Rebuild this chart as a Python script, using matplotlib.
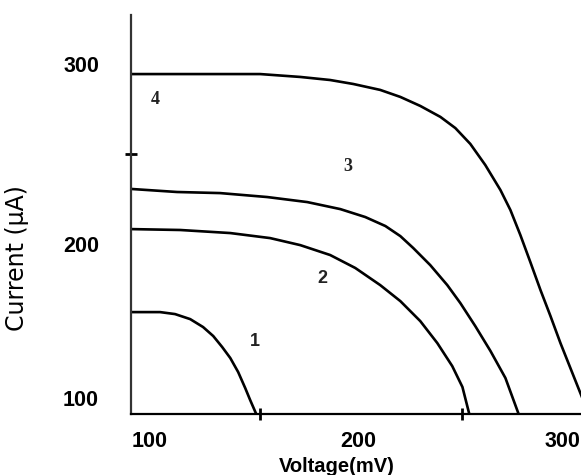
import matplotlib
matplotlib.use('Agg')
import matplotlib.pyplot as plt
from matplotlib import font_manager

# I-V curves (voltage in mV, current in uA)
v1 = [90.8, 104.8, 112.0, 119.3, 125.5, 130.4, 134.7, 138.6, 142.4, 145.8, 148.2, 151.1]
i1 = [162.2, 162.2, 161.1, 158.3, 153.9, 148.9, 142.8, 136.7, 128.9, 120.0, 113.3, 105.6]

v2 = [90.8, 114.5, 138.6, 157.8, 172.3, 186.7, 198.8, 210.8, 220.5, 230.1, 238.3, 245.5, 250.4, 253.7]
i2 = [208.3, 207.8, 206.1, 203.3, 199.4, 193.9, 186.7, 177.2, 168.3, 157.2, 145.0, 132.2, 120.6, 105.6]

v3 = [90.8, 113.0, 133.7, 156.4, 175.7, 191.6, 203.6, 213.3, 220.5, 226.7, 234.9, 243.1, 249.4,
      256.6, 263.9, 271.1, 277.3]
i3 = [230.6, 228.9, 228.3, 226.1, 223.3, 219.4, 215.0, 210.0, 204.4, 197.8, 188.3, 177.2, 167.2,
      154.4, 140.6, 125.6, 106.1]

v4 = [90.8, 153.0, 172.3, 186.7, 197.8, 210.8, 220.5, 230.1, 239.8, 247.0, 254.2, 261.4, 268.7,
      273.5, 278.3, 283.1, 288.0, 292.8, 297.6, 302.4, 307.2, 312.0]
i4 = [294.4, 294.4, 292.8, 291.1, 288.9, 285.6, 281.7, 276.7, 270.6, 264.4, 255.6, 243.9, 230.0,
      218.9, 205.0, 190.0, 174.4, 160.0, 145.0, 131.1, 117.2, 103.3]

curve_names = ['1', '2', '3', '4']
name_v = [150.6, 182.9, 195.4, 102.4]
name_i = [145.6, 180.6, 243.3, 280.0]

xtick_pos = [100, 200, 298.5]
xtick_labels = ['100', '200', '300']
ytick_pos = [114.4, 200, 300]
ytick_labels = ['100', '200', '300']
xmarks = [153, 250]
ymarks = [250]

installed = {f.name for f in font_manager.fontManager.ttflist}
narrow = 'Liberation Sans Narrow' if 'Liberation Sans Narrow' in installed else 'DejaVu Sans'
sans = 'Liberation Sans'
serif = 'Liberation Serif'

fig = plt.figure(figsize=(5.81, 4.75), dpi=100)
ax = fig.add_axes([0.2255, 0.1284, 0.7745, 0.84])

for v, i in [(v1, i1), (v2, i2), (v3, i3), (v4, i4)]:
    ax.plot(v, i, color='black', linewidth=1.9, solid_joinstyle='round')

ax.set_xlim(90.8, 307.5)
ax.set_ylim(105.6, 327.2)

for k, name in enumerate(curve_names):
    fam = serif if name in ('3', '4') else sans
    ax.text(name_v[k], name_i[k], name, ha='center', va='center',
            fontsize=13, fontweight='bold', family=fam, color='#222222')

# labels sit where the picture puts them, marks separately
ax.set_xticks(xtick_pos)
ax.set_xticklabels(xtick_labels, fontsize=15.5, fontweight='bold', family=sans)
ax.set_yticks(ytick_pos)
ax.set_yticklabels(ytick_labels, fontsize=15.5, fontweight='bold', family=sans)
ax.tick_params(axis='x', which='major', length=0, pad=12)
ax.tick_params(axis='y', which='major', length=0, pad=23)
ax.set_xticks(xmarks, minor=True)
ax.set_yticks(ymarks, minor=True)
ax.tick_params(which='minor', direction='inout', length=9, width=2, color='black')

ax.set_xlabel('Voltage(mV)', fontsize=14.5, fontweight='bold', family=sans)
ax.xaxis.set_label_coords(0.458, -0.108)
ax.set_ylabel('Current (\u03bcA)', fontsize=17, family=narrow)
ax.yaxis.set_label_coords(-0.2267, 0.391)

ax.spines['top'].set_visible(False)
ax.spines['right'].set_visible(False)
ax.spines['left'].set_linewidth(1.6)
ax.spines['bottom'].set_linewidth(1.6)
ax.spines['left'].set_color('#333333')

fig.savefig('out.png', dpi=100, facecolor='white')
